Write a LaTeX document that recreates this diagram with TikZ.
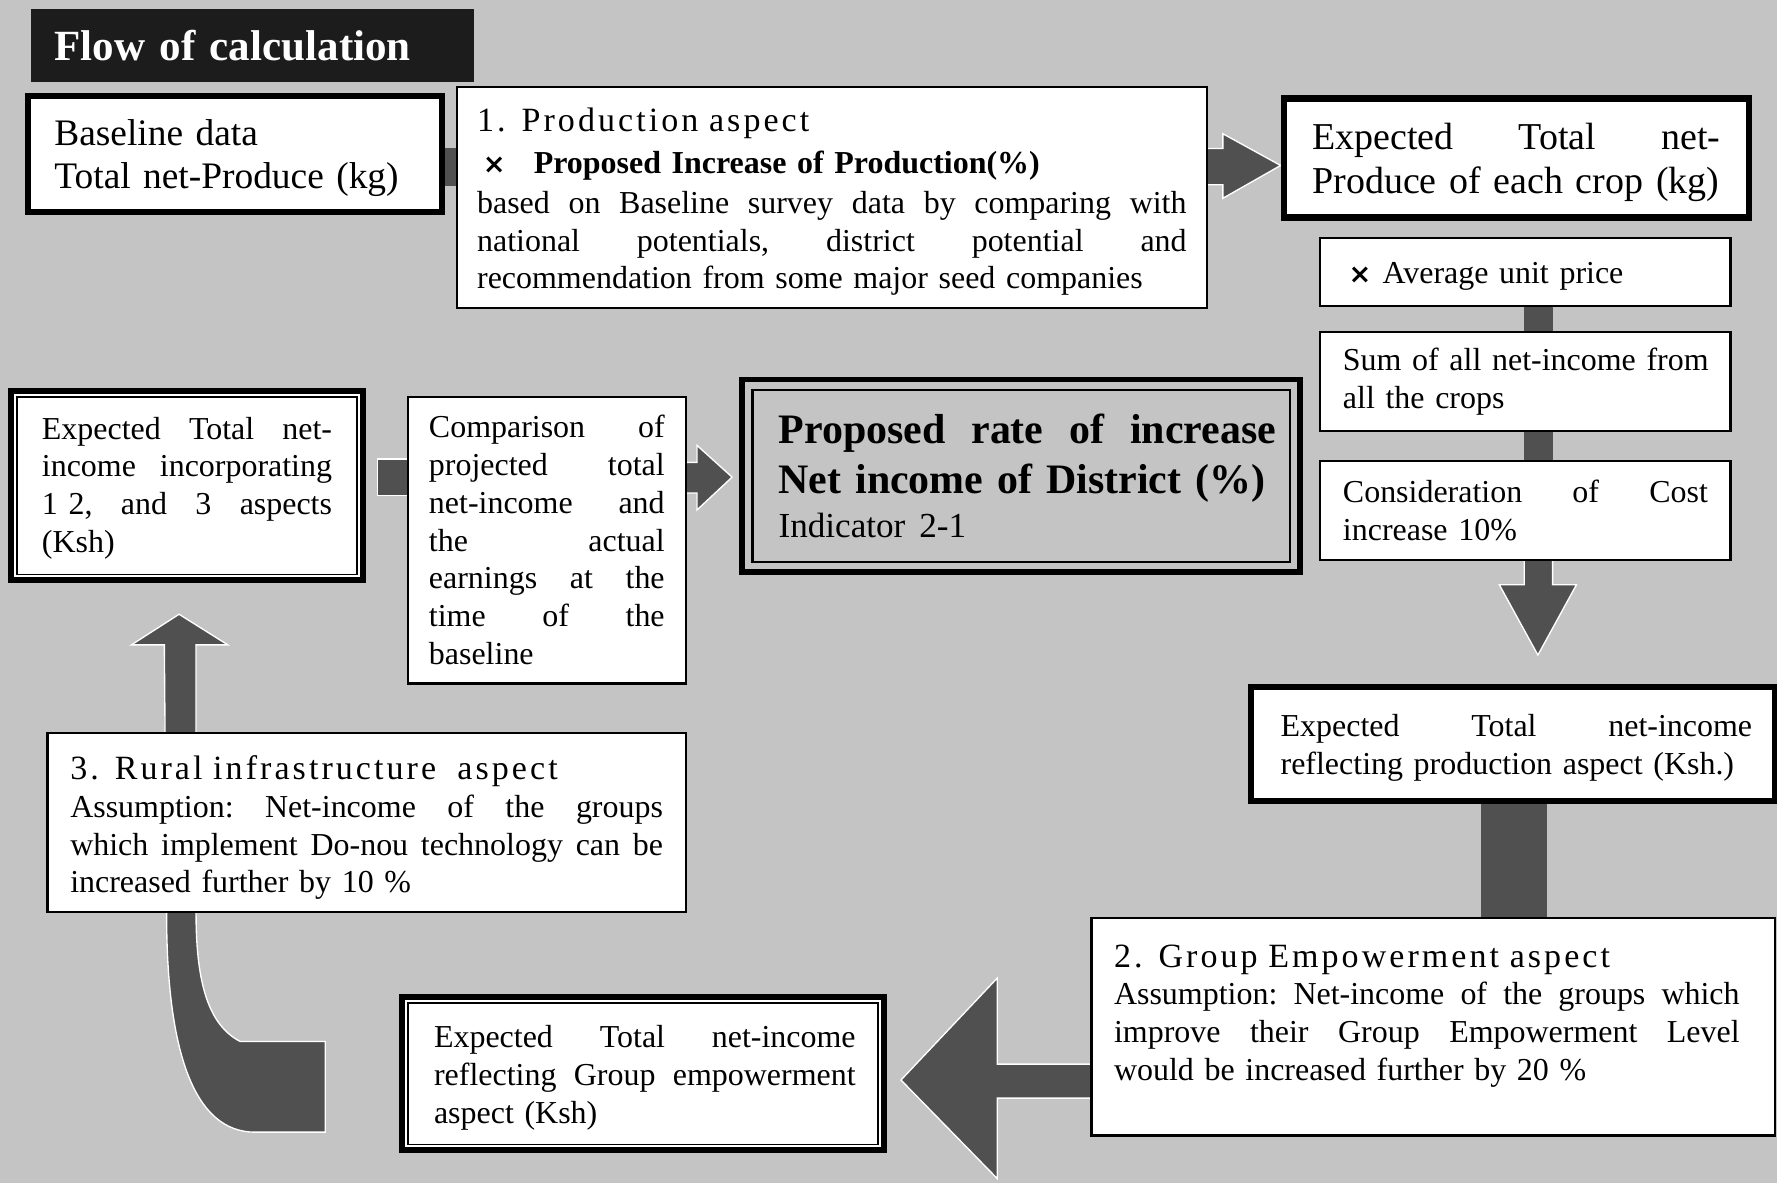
\documentclass[tikz,border=0pt]{standalone}
\usepackage{fontspec}
\setmainfont{Liberation Serif}
\newfontfamily\symfont{DejaVu Sans}
\usetikzlibrary{calc}
\definecolor{bg}{RGB}{196,196,196}
\definecolor{arr}{RGB}{80,80,80}
\definecolor{ttl}{RGB}{28,28,28}
% justified single line: words spread over the given width
\def\jlx#1 #2\jlend{#1\ifx\relax#2\relax\else\hfill\ \jlx#2\jlend\fi}
\newcommand\jl[2]{\leavevmode\hbox to #1{\jlx#2 \jlend}}
\newcommand\bodyfont{\fontsize{28.2}{33.3}\selectfont}
\newcommand\hdrfont{\fontsize{30}{35}\selectfont\addfontfeature{LetterSpace=9}}
\newcommand\xsym{{\symfont\bfseries\fontsize{24}{24}\selectfont ×}}
\pgfdeclarelayer{back}
\pgfdeclarelayer{arrows}
\pgfsetlayers{back,arrows,main}
\tikzset{
  box/.style={draw=black, line width=2pt, fill=white, outer sep=0pt, inner ysep=0pt,
    align=left, anchor=north west, font=\bodyfont},
  heavy/.style={box, line width=5.5pt},
  dbl/.style={heavy, path picture={\draw[line width=1.5pt]
    ([shift={(5pt,-5pt)}]path picture bounding box.north west) rectangle
    ([shift={(-5pt,5pt)}]path picture bounding box.south east);}},
  central/.style={box, line width=5pt, fill=none, path picture={\draw[line width=2pt]
    ([shift={(9pt,-9pt)}]path picture bounding box.north west) rectangle
    ([shift={(-9pt,9pt)}]path picture bounding box.south east);}},
  blockarrow/.style={fill=arr, draw=white, line width=1.2pt, line join=miter},
  shaft/.style={fill=arr, draw=none},
}
\begin{document}
\begin{tikzpicture}[x=1pt,y=-1pt]
\useasboundingbox (0,0) rectangle (1568,1044);
\begin{pgfonlayer}{back}
\fill[bg] (0,0) rectangle (1568,1044);
\end{pgfonlayer}

% title
\node[fill=ttl, outer sep=0pt, anchor=north west, minimum width=391pt, minimum height=64pt,
  inner xsep=21pt, inner ysep=0pt, text width=349pt, align=left, text=white,
  font=\bfseries\fontsize{38}{42}\selectfont] (title) at (27,8) {Flow of calculation};

% boxes
\node[heavy, minimum width=365pt, minimum height=102pt, inner xsep=23pt, text width=319pt,
  text height=30.5pt, font=\fontsize{33}{38}\selectfont] (base) at (25,85)
  {Baseline data\\Total net-Produce (kg)};

\node[box, minimum width=662pt, minimum height=195pt, inner xsep=18pt, text width=626pt,
  text height=28pt] (prod) at (403,77)
  {{\hdrfont 1. Production aspect}\\[4pt]
   \makebox[50pt][l]{\hspace{5pt}\xsym}\textbf{Proposed Increase of Production(\%)}\\[1.5pt]
   \jl{626pt}{based on Baseline survey data by comparing with}\\
   \jl{626pt}{national potentials, district potential and}\\
   recommendation from some major seed companies};

\node[heavy, minimum width=410pt, minimum height=105pt, inner xsep=25pt, text width=360pt,
  text height=31pt, font=\fontsize{33.5}{39}\selectfont] (expprod) at (1133,87)
  {\jl{360pt}{Expected Total net-}\\Produce of each crop (kg)};

\node[box, minimum width=362pt, minimum height=60pt, inner xsep=25pt, text width=312pt,
  text height=27pt] (avg) at (1165,210)
  {\makebox[30pt][l]{\xsym}Average unit price};

\node[box, minimum width=362pt, minimum height=87pt, inner xsep=20pt, text width=322pt] (sum) at (1165,293)
  {\mbox{Sum of all net-income from}\\all the crops};

\node[box, minimum width=362pt, minimum height=87pt, inner xsep=20pt, text width=322pt] (cons) at (1165,407)
  {\jl{322pt}{Consideration of Cost}\\increase 10\%};

\node[central, minimum width=492pt, minimum height=170pt, inner xsep=32pt, text width=428pt,
  font=\fontsize{37}{44}\selectfont] (cent) at (655,335)
  {{\bfseries\jl{439pt}{Proposed rate of increase}\\\mbox{Net income of District (\%)}}\\[-5pt]
   {\fontsize{31}{36}\selectfont Indicator 2-1}};

\node[dbl, minimum width=310pt, minimum height=167pt, inner xsep=27pt, text width=256pt,
  text height=24pt] (left) at (10,345)
  {\jl{256pt}{Expected Total net-}\\\jl{256pt}{income incorporating}\\\jl{256pt}{1\ 2, and 3 aspects}\\(Ksh)};

\node[box, minimum width=245pt, minimum height=253pt, inner xsep=18.5pt, text width=208pt] (cmp) at (360,350)
  {\jl{208pt}{Comparison of}\\\jl{208pt}{projected total}\\\jl{208pt}{net-income and}\\\jl{208pt}{the actual}\\\jl{208pt}{earnings at the}\\\jl{208pt}{time of the}\\baseline};

\node[box, minimum width=563pt, minimum height=158pt, inner xsep=20pt, text width=523pt,
  text height=30pt] (rural) at (42,647)
  {{\hdrfont 3. Rural infrastructure\ \ aspect}\\
   \jl{523pt}{Assumption: Net-income of the groups}\\
   \jl{523pt}{which implement Do-nou technology can be}\\
   increased further by 10 \%};

\node[heavy, minimum width=462pt, minimum height=101pt, inner xsep=26pt, text width=410pt,
  text height=27pt] (prodres) at (1104,606)
  {\jl{416pt}{Expected Total net-income}\\reflecting production aspect (Ksh.)};

\node[box, minimum width=603pt, minimum height=192pt, inner xsep=20pt, text width=563pt,
  text height=28pt] (group) at (963,810)
  {{\hdrfont 2. Group Empowerment aspect}\\
   \jl{552pt}{Assumption: Net-income of the groups which}\\
   \jl{552pt}{improve their Group Empowerment Level}\\
   would be increased further by 20 \%\\\mbox{}};

\node[dbl, minimum width=425pt, minimum height=135pt, inner xsep=28pt, text width=369pt,
  text height=27pt] (groupres) at (355,880)
  {\jl{372pt}{Expected Total net-income}\\\jl{372pt}{reflecting Group empowerment}\\aspect (Ksh)};

% arrows
\begin{pgfonlayer}{arrows}
\path[shaft] (base.east |- 0,131) rectangle (prod.west |- 0,164);
\path[blockarrow] (prod.east |- 0,131) -- (1079,131) -- (1079,118) -- (1130,146)
  -- (1079,175) -- (1079,163) -- (prod.east |- 0,163) -- cycle;
\path[shaft] (1345,0 |- avg.south) rectangle (1370,0 |- sum.north);
\path[shaft] (1345,0 |- sum.south) rectangle (1370,0 |- cons.north);
\path[blockarrow] (1345,0 |- cons.south) -- (1345,516) -- (1323,516) -- (1357,578)
  -- (1391,516) -- (1370,516) -- (1370,0 |- cons.south) -- cycle;
\path[shaft] (1307,0 |- prodres.south) rectangle (1365,0 |- group.north);
\path[blockarrow] (group.west |- 0,939) -- (880,939) -- (880,863) -- (795,953)
  -- (880,1040) -- (880,969) -- (group.west |- 0,969) -- cycle;
\path[blockarrow] (287,999) -- (225,999) .. controls (172,999) and (147,930) .. (147,806)
  -- (145,569) -- (116,569) -- (158,542) -- (201,569) -- (173,569) -- (173,806)
  .. controls (173,870) and (185,905) .. (212,919) -- (287,919) -- cycle;
\path[blockarrow] (333,405) rectangle (cmp.west |- 0,437);
\path[blockarrow] (cmp.east |- 0,408) -- (615,408) -- (615,393) -- (646,421)
  -- (615,450) -- (615,435) -- (cmp.east |- 0,435) -- cycle;
\end{pgfonlayer}
\end{tikzpicture}
\end{document}
